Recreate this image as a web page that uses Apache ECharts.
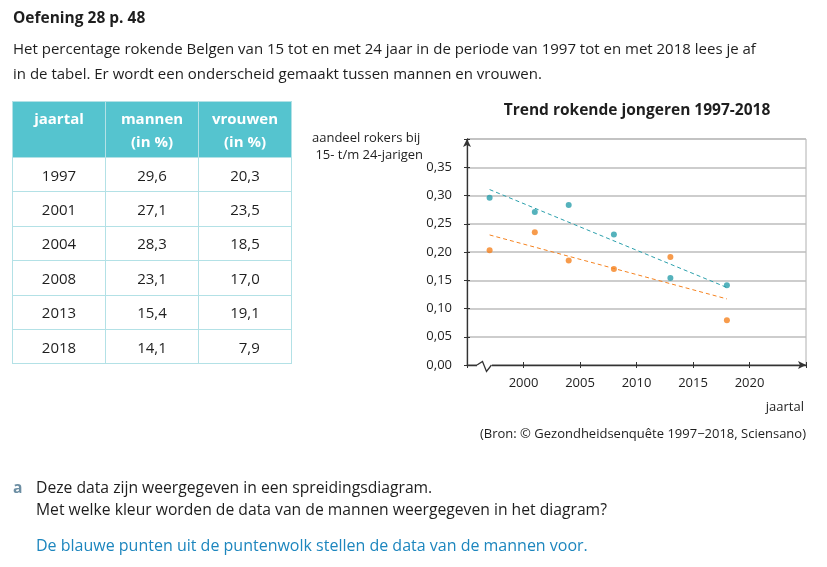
<!DOCTYPE html>
<html>
<head>
<meta charset="utf-8">
<script src="https://cdn.jsdelivr.net/npm/echarts@6/dist/echarts.min.js"></script>
<style>
  html, body { margin:0; padding:0; background:#fff; }
  body { width:827px; height:567px; position:relative; overflow:hidden; font-family:"Open Sans","Noto Sans",sans-serif; color:#1e1e1e; }
  #chart { position:absolute; left:0; top:0; width:827px; height:567px; }
  .abs { position:absolute; z-index:2; white-space:nowrap; }
  #h { left:13px; top:6px; font-size:15.5px; font-weight:700; line-height:22px; }
  #p { left:13px; top:35.5px; font-size:15px; line-height:25px; }
  table { position:absolute; z-index:2; left:12px; top:100.5px; border-collapse:collapse; font-size:15px; }
  th { background:#55c4cf; color:#fff; font-weight:700; height:56.5px; line-height:23.5px; border:1.5px solid #b3e1e6; padding:5px 0 0 0; vertical-align:top; box-sizing:border-box; }
  td { height:34.4px; border:1.5px solid #b3e1e6; text-align:center; padding:0; box-sizing:border-box; white-space:pre; }
  #q { left:13px; top:476px; font-size:15.7px; line-height:22px; }
  #q .a { position:absolute; left:0; top:0; color:#6c8ea3; font-weight:700; }
  #q .t { position:absolute; left:23px; top:0; }
  #ans { left:36px; top:533px; font-size:16px; line-height:24px; color:#1d86be; }
</style>
</head>
<body>
<div id="chart"></div>
<div class="abs" id="h">Oefening 28 p. 48</div>
<div class="abs" id="p">Het percentage rokende Belgen van 15 tot en met 24 jaar in de periode van 1997 tot en met 2018 lees je af<br>in de tabel. Er wordt een onderscheid gemaakt tussen mannen en vrouwen.</div>
<table id="tbl"></table>
<div class="abs" id="q"><span class="a">a</span><span class="t">Deze data zijn weergegeven in een spreidingsdiagram.<br>Met welke kleur worden de data van de mannen weergegeven in het diagram?</span></div>
<div class="abs" id="ans">De blauwe punten uit de puntenwolk stellen de data van de mannen voor.</div>
<script>
// ---- data ----
const years = [1997, 2001, 2004, 2008, 2013, 2018];
const mannen = [29.6, 27.1, 28.3, 23.1, 15.4, 14.1];   // in %
const vrouwen = [20.3, 23.5, 18.5, 17.0, 19.1, 7.9];   // in %
const tableHeaders = ['jaartal', 'mannen<br>(in %)', 'vrouwen<br>(in %)'];
const xTicks = [2000, 2005, 2010, 2015, 2020];
const yTicks = [0, 0.05, 0.10, 0.15, 0.20, 0.25, 0.30, 0.35];

// ---- table ----
const colW = [93, 93, 93];
const fmt1 = v => v.toFixed(1).replace('.', ',').padStart(4, '\u2007');
let html = '<tr>' + tableHeaders.map((h, i) => '<th style="width:' + colW[i] + 'px">' + h + '</th>').join('') + '</tr>';
years.forEach((y, i) => {
  html += '<tr><td>' + y + '</td><td>' + fmt1(mannen[i]) + '</td><td>' + fmt1(vrouwen[i]) + '</td></tr>';
});
document.getElementById('tbl').innerHTML = html;

// ---- chart ----
const blue = '#2a9fab', orange = '#f5821f';
const menPts = years.map((y, i) => [y, mannen[i] / 100]);
const womenPts = years.map((y, i) => [y, vrouwen[i] / 100]);

function trend(pts) {
  const n = pts.length;
  const mx = pts.reduce((s, p) => s + p[0], 0) / n;
  const my = pts.reduce((s, p) => s + p[1], 0) / n;
  let sxy = 0, sxx = 0;
  pts.forEach(p => { sxy += (p[0] - mx) * (p[1] - my); sxx += (p[0] - mx) * (p[0] - mx); });
  const b = sxy / sxx;
  const x0 = pts[0][0], x1 = pts[n - 1][0];
  return [[x0, my + b * (x0 - mx)], [x1, my + b * (x1 - mx)]];
}

const chart = echarts.init(document.getElementById('chart'), null, { renderer: 'canvas' });
const font = '"Open Sans","Noto Sans",sans-serif';
const axisCol = '#333';
const xLabelFmt = v => (xTicks.indexOf(v) >= 0 ? String(v) : '');
const yLabelFmt = v => {
  const r = Math.round(v * 100) / 100;
  return yTicks.some(t => Math.abs(t - r) < 1e-9) ? r.toFixed(2).replace('.', ',') : '';
};

chart.setOption({
  animation: false,
  textStyle: { fontFamily: font },
  title: {
    text: 'Trend rokende jongeren 1997-2018',
    left: 632, top: 98, textAlign: 'center',
    textStyle: { fontFamily: font, fontSize: 15.5, fontWeight: 700, color: '#1e1e1e' }
  },
  grid: { left: 467, right: 21, top: 139, bottom: 202, show: true, borderColor: '#b0b0b0', borderWidth: 1 },
  xAxis: [{
    type: 'value', min: 1995, max: 2025, interval: 5,
    axisLine: { show: true, lineStyle: { color: axisCol, width: 1.3 }, symbol: ['none', 'arrow'], symbolSize: [6, 8] },
    axisTick: { show: true, length: 3, lineStyle: { color: axisCol } },
    axisLabel: { formatter: xLabelFmt, color: '#1e1e1e', fontSize: 13, margin: 12, fontFamily: font },
    splitLine: { show: false }
  }, {
    type: 'value', min: 1995, max: 2025, interval: 5, position: 'bottom',
    axisLine: { show: false },
    axisTick: { show: true, inside: true, length: 3, lineStyle: { color: axisCol } },
    axisLabel: { show: false }, splitLine: { show: false }
  }],
  yAxis: [{
    type: 'value', min: 0, max: 0.40, interval: 0.05,
    axisLine: { show: true, lineStyle: { color: axisCol, width: 1.3 }, symbol: ['none', 'arrow'], symbolSize: [6, 8] },
    axisTick: { show: true, length: 3, lineStyle: { color: axisCol } },
    axisLabel: { formatter: yLabelFmt, color: '#1e1e1e', fontSize: 13, margin: 15, fontFamily: font },
    splitLine: { show: true, lineStyle: { color: '#bcbcbc', width: 1.5 } }
  }, {
    type: 'value', min: 0, max: 0.40, interval: 0.05, position: 'left',
    axisLine: { show: false },
    axisTick: { show: true, inside: true, length: 3, lineStyle: { color: axisCol } },
    axisLabel: { show: false }, splitLine: { show: false }
  }],
  series: [
    { name: 'mannen', type: 'scatter', data: menPts, symbolSize: 6, itemStyle: { color: blue }, z: 5 },
    { name: 'vrouwen', type: 'scatter', data: womenPts, symbolSize: 6, itemStyle: { color: orange }, z: 5 },
    { name: 'trend mannen', type: 'line', data: trend(menPts), symbol: 'none',
      lineStyle: { color: blue, width: 1, type: [4, 3] }, z: 4 },
    { name: 'trend vrouwen', type: 'line', data: trend(womenPts), symbol: 'none',
      lineStyle: { color: orange, width: 1, type: [4, 3] }, z: 4 }
  ]
});

// decorations: axis names, source, axis break
const o = chart.convertToPixel({ gridIndex: 0 }, [1995, 0]);
chart.setOption({
  graphic: [
    { type: 'text', left: 312, top: 130, z: 10,
      style: { text: 'aandeel rokers bij\n 15- t/m 24-jarigen', font: '13px ' + font, fill: '#1e1e1e', lineHeight: 17 } },
    { type: 'text', right: 23, top: 401, z: 10,
      style: { text: 'jaartal', font: '13px ' + font, fill: '#1e1e1e' } },
    { type: 'text', right: 21, top: 428, z: 10,
      style: { text: '(Bron: \u00A9 Gezondheidsenqu\u00EAte 1997\u22122018, Sciensano)', font: '13px ' + font, fill: '#1e1e1e' } },
    { type: 'rect', z: 20, shape: { x: o[0] + 10, y: o[1] - 2, width: 15, height: 4 }, style: { fill: '#fff' } },
    { type: 'polyline', z: 21,
      shape: { points: [[o[0] + 10, o[1]], [o[0] + 15.5, o[1] - 3.5], [o[0] + 19.5, o[1] + 6.5], [o[0] + 24.5, o[1]]] },
      style: { stroke: axisCol, lineWidth: 1.3, fill: null } }
  ]
});
</script>
</body>
</html>
